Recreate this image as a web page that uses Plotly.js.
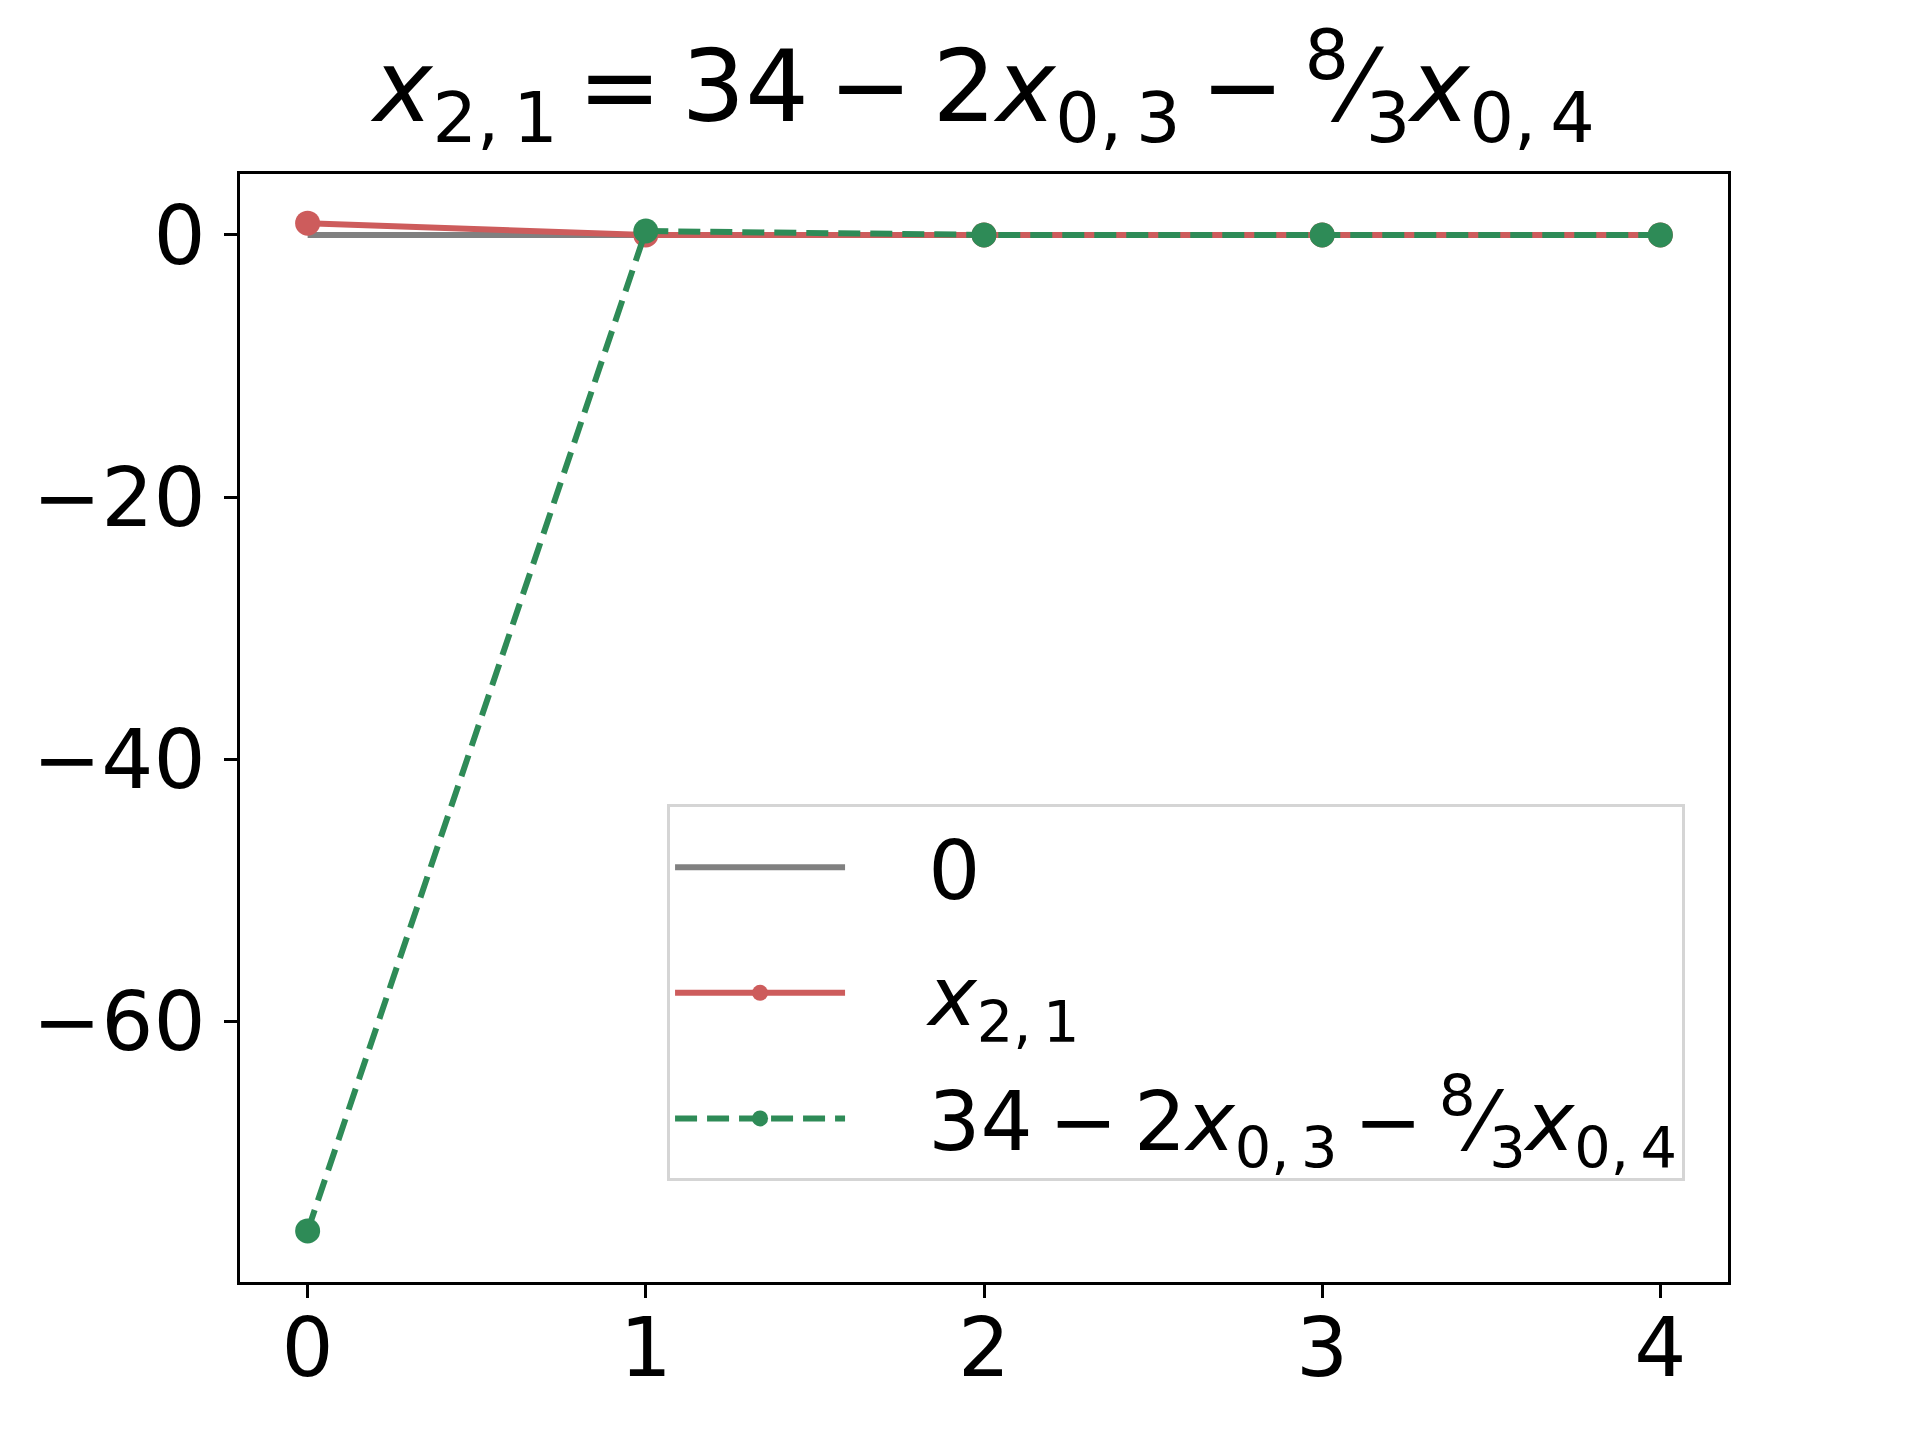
<!DOCTYPE html>
<html>
<head>
<meta charset="utf-8">
<script src="https://cdn.plot.ly/plotly-3.0.1.min.js"></script>
<style>
  html, body { margin: 0; padding: 0; background: #fff; }
  #chart { width: 1920px; height: 1440px; }
</style>
</head>
<body>
<div id="chart"></div>
<script>
// -------- DATA --------
const steps = [0, 1, 2, 3, 4];
const zeroLine = [0, 0, 0, 0, 0];
const x21 = [0.9, 0, 0, 0, 0];
const rhs = [-76, 0.3, 0, 0, 0];
const yTicks = [0, -20, -40, -60];

// thin space, close to mathtext spacing
const ts = '\u2009';
const names = {
  zero: '0',
  x21: '<i>x</i><sub>2,' + ts + '1</sub>',
  rhs: '34' + ts + '−' + ts + '2<i>x</i><sub>0,' + ts + '3</sub>' + ts + '−' + ts +
       '<sup>8</sup>⁄<sub>3</sub><i>x</i><sub>0,' + ts + '4</sub>'
};
const titleText = names.x21 + ts + '=' + ts + names.rhs;
const pad = '\u00a0\u00a0\u00a0';   // gap between legend sample and label

// -------- TRACES --------
const traces = [
  {
    x: steps, y: zeroLine, name: pad + names.zero, legendgroup: 'a',
    type: 'scatter', mode: 'lines',
    line: { color: 'gray', width: 6 }
  },
  {
    x: steps, y: x21, name: pad + names.x21, legendgroup: 'b',
    type: 'scatter', mode: 'lines+markers',
    line: { color: '#CD5C5C', width: 6 },
    marker: { color: '#CD5C5C', size: 25 }
  },
  {
    x: steps, y: rhs, name: pad + names.rhs, legendgroup: 'c',
    type: 'scatter', mode: 'lines+markers',
    line: { color: '#2E8B57', width: 6, dash: '22px,10px' },
    marker: { color: '#2E8B57', size: 25 }
  }
];

// -------- LAYOUT --------
const axisStyle = {
  showgrid: false, zeroline: false,
  showline: true, mirror: true, linecolor: 'black', linewidth: 3,
  ticks: 'outside', ticklen: 13, tickwidth: 3, tickcolor: 'black',
  tickfont: { size: 82, color: 'black' }
};

const layout = {
  width: 1920, height: 1440,
  font: { family: 'DejaVu Sans', color: 'black' },
  title: {
    text: titleText,
    font: { size: 100, color: 'black' },
    x: 0.5, xref: 'paper', xanchor: 'center',
    y: 0.94, yref: 'container', yanchor: 'middle'
  },
  xaxis: Object.assign({}, axisStyle, {
    range: [-0.2, 4.2], tickvals: steps, ticklabelstandoff: -20
  }),
  yaxis: Object.assign({}, axisStyle, {
    range: [-79.9, 4.65], tickvals: yTicks, ticklabelstandoff: 2
  }),
  legend: {
    x: 0.287, y: 0.431, xanchor: 'left', yanchor: 'top',
    bgcolor: 'white', bordercolor: '#d5d5d5', borderwidth: 3,
    font: { size: 82, color: 'black' },
    itemwidth: 170, tracegroupgap: 16
  },
  showlegend: true,
  margin: { l: 240, r: 192, t: 174, b: 158 },
  plot_bgcolor: 'white',
  paper_bgcolor: 'white'
};

Plotly.newPlot('chart', traces, layout, { displayModeBar: false, staticPlot: true });
</script>
</body>
</html>
